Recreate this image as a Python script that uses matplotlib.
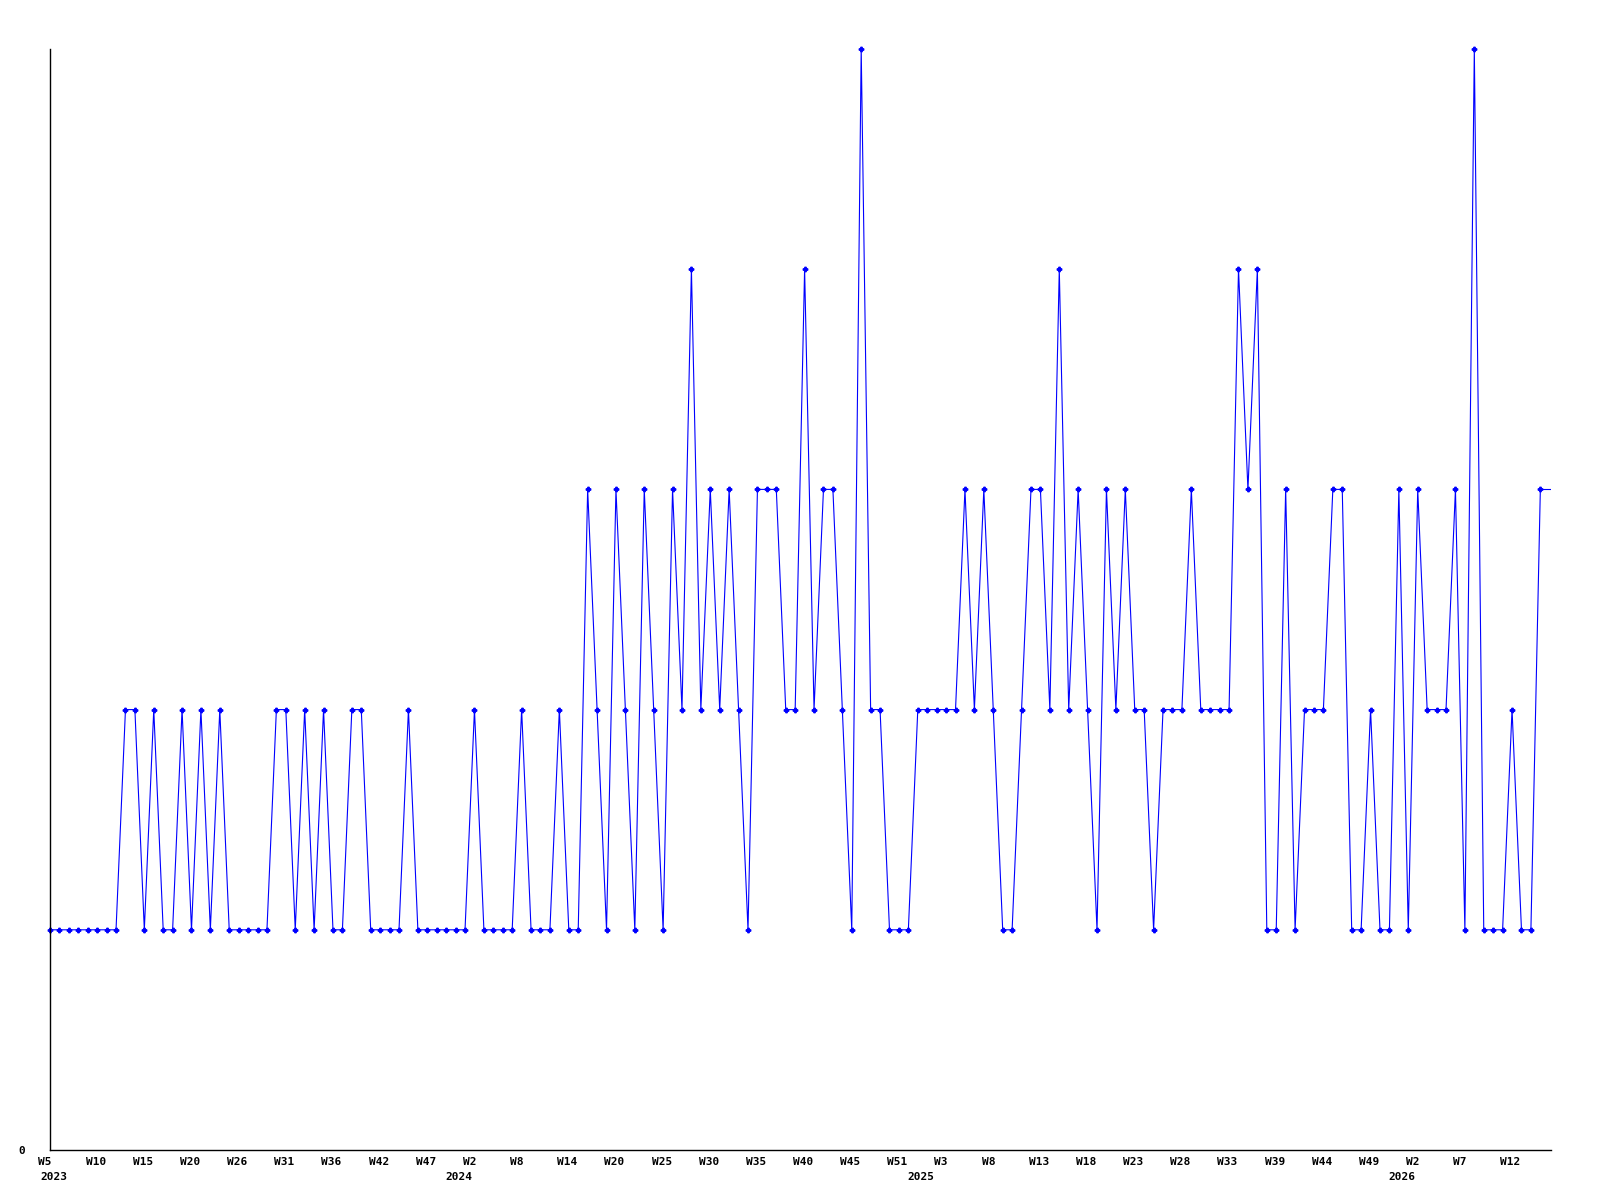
import matplotlib
matplotlib.use("Agg")
import matplotlib.pyplot as plt
from matplotlib import transforms
import numpy as np

# weekly values, 2023 W5 onwards
values = [1, 1, 1, 1, 1, 1, 1, 1, 2, 2,
          1, 2, 1, 1, 2, 1, 2, 1, 2, 1,
          1, 1, 1, 1, 2, 2, 1, 2, 1, 2,
          1, 1, 2, 2, 1, 1, 1, 1, 2, 1,
          1, 1, 1, 1, 1, 2, 1, 1, 1, 1,
          2, 1, 1, 1, 2, 1, 1, 3, 2, 1,
          3, 2, 1, 3, 2, 1, 3, 2, 4, 2,
          3, 2, 3, 2, 1, 3, 3, 3, 2, 2,
          4, 2, 3, 3, 2, 1, 5, 2, 2, 1,
          1, 1, 2, 2, 2, 2, 2, 3, 2, 3,
          2, 1, 1, 2, 3, 3, 2, 4, 2, 3,
          2, 1, 3, 2, 3, 2, 2, 1, 2, 2,
          2, 3, 2, 2, 2, 2, 4, 3, 4, 1,
          1, 3, 1, 2, 2, 2, 3, 3, 1, 1,
          2, 1, 1, 3, 1, 3, 2, 2, 2, 3,
          1, 5, 1, 1, 1, 2, 1, 1, 3]

week_labels = ["W5", "W10", "W15", "W20", "W26", "W31", "W36", "W42", "W47",
               "W2", "W8", "W14", "W20", "W25", "W30", "W35", "W40", "W45", "W51",
               "W3", "W8", "W13", "W18", "W23", "W28", "W33", "W39", "W44", "W49",
               "W2", "W7", "W12"]
week_label_step = 5

years = ["2023", "2024", "2025", "2026"]
year_pos = [-1.06, 41.9, 90.9, 141.9]

x = np.arange(len(values))
y = np.array(values)
xmax = len(values) - 1 + 1.13

fig = plt.figure(figsize=(16, 12), dpi=100)
ax = fig.add_axes([50 / 1600, 50 / 1200, 1501 / 1600, 1101 / 1200])

ax.plot(x, y, color="#0000ff", lw=0.8, marker="P", ms=3.2, clip_on=False)
ax.plot([x[-1], xmax], [y[-1], y[-1]], color="#0000ff", lw=0.8)

ax.set_xlim(0, xmax)
ax.set_ylim(0, 5)

for s in ["top", "right"]:
    ax.spines[s].set_visible(False)
for s in ["left", "bottom"]:
    ax.spines[s].set_linewidth(1.0)
    ax.spines[s].set_color("black")

lab_font = dict(family="DejaVu Sans Mono", weight="bold", size=8)

ax.set_xticks([])
ax.set_yticks([0])
ax.set_yticklabels(["0"], fontdict=lab_font)
ax.tick_params(axis="y", length=0, pad=18)

trans = transforms.blended_transform_factory(ax.transData, ax.transAxes)
for k, lab in enumerate(week_labels):
    ax.text(k * week_label_step - 1.23, -0.011, lab, transform=trans,
            ha="left", va="center", clip_on=False, **lab_font)
for pos, yr in zip(year_pos, years):
    ax.text(pos, -0.0245, yr, transform=trans,
            ha="left", va="center", clip_on=False, **lab_font)

fig.savefig("out.png", dpi=100, facecolor="white")
